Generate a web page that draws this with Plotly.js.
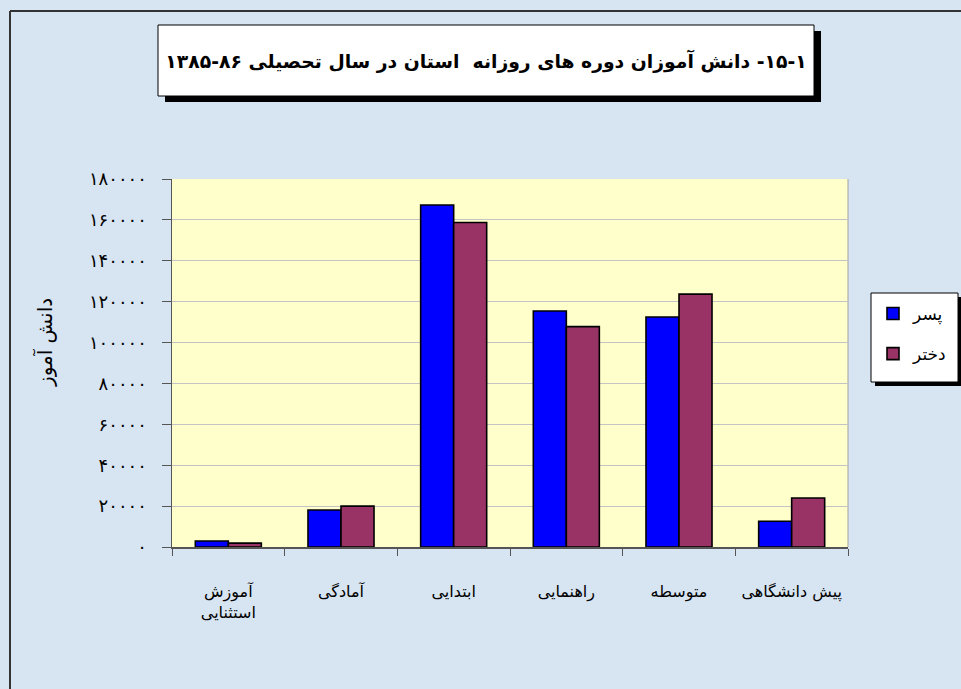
<!DOCTYPE html>
<html>
<head>
<meta charset="utf-8">
<script src="https://cdn.plot.ly/plotly-3.0.1.min.js"></script>
<style>
html,body{margin:0;padding:0;background:#d7e4f2;}
#chart{width:961px;height:689px;}
</style>
</head>
<body>
<div id="chart"></div>
<script>
// ---- data ----
const categories = ['آموزش استثنایی', 'آمادگی', 'ابتدایی', 'راهنمایی', 'متوسطه', 'پیش دانشگاهی'];
const categoryLabels = ['آموزش<br>استثنایی', 'آمادگی', 'ابتدایی', 'راهنمایی', 'متوسطه', 'پیش دانشگاهی'];
const boys = [2900, 18100, 167300, 115400, 112500, 12600];   // پسر
const girls = [1900, 20000, 158700, 107800, 123700, 24000];  // دختر
const seriesNames = ['پسر', 'دختر'];
const yTickVals = [0, 20000, 40000, 60000, 80000, 100000, 120000, 140000, 160000, 180000];
const yTickText = ['۰', '۲۰۰۰۰', '۴۰۰۰۰', '۶۰۰۰۰', '۸۰۰۰۰', '۱۰۰۰۰۰', '۱۲۰۰۰۰', '۱۴۰۰۰۰', '۱۶۰۰۰۰', '۱۸۰۰۰۰'];
const titleText = '\u202B۱\u200F-۱۵\u200F- دانش آموزان دوره های روزانه  استان در سال تحصیلی ۸۶\u200F-۱۳۸۵\u202C';
const yTitle = 'دانش آموز';

// ---- layout helpers (pixel -> paper) ----
const W = 961, H = 689, L = 172, R = 113, T = 179, B = 142;
const pw = W - L - R, ph = H - T - B;
const px = x => (x - L) / pw;
const py = y => (H - B - y) / ph;
const FONT = 'DejaVu Sans, Tahoma, sans-serif';

const traces = [
  {type: 'bar', x: categories, y: boys, name: seriesNames[0], legendgroup: 'a',
   marker: {color: '#0000ff', line: {color: '#000000', width: 1.6}}, hoverinfo: 'x+y'},
  {type: 'bar', x: categories, y: girls, name: seriesNames[1], legendgroup: 'b',
   marker: {color: '#993366', line: {color: '#000000', width: 1.6}}, hoverinfo: 'x+y'}
];

const rect = (x0, y0, x1, y1, fill, line, lw, layer) => ({
  type: 'rect', xref: 'paper', yref: 'paper', layer: layer || 'above',
  x0: px(x0), x1: px(x1), y0: py(y1), y1: py(y0),
  fillcolor: fill, line: {color: line, width: lw}
});

const shapes = [
  // outer frame (left/top)
  {type: 'line', xref: 'paper', yref: 'paper', x0: px(10), x1: px(10), y0: py(689), y1: py(11), line: {color: '#333333', width: 2}},
  {type: 'line', xref: 'paper', yref: 'paper', x0: px(10), x1: px(961), y0: py(11), y1: py(11), line: {color: '#333333', width: 2}},
  // plot area right border
  {type: 'line', xref: 'paper', yref: 'paper', x0: 1, x1: 1, y0: 0, y1: 1, line: {color: '#a0a0a0', width: 1}, layer: 'below'},
  // title box shadow + box
  rect(165, 31, 821, 102, '#000000', '#000000', 0),
  rect(158, 25, 814, 96, '#ffffff', '#000000', 1),
  // legend box shadow + box
  rect(875, 297, 962, 386, '#000000', '#000000', 0),
  rect(871, 293, 958, 382, '#ffffff', '#000000', 1)
];

const layout = {
  width: W, height: H,
  margin: {l: L, r: R, t: T, b: B, pad: 0, autoexpand: false},
  paper_bgcolor: '#d7e4f2',
  plot_bgcolor: '#ffffcc',
  font: {family: FONT, size: 14, color: '#000000'},
  title: {text: '<b>' + titleText + '</b>', x: 486 / W, y: 1 - 61 / H, xref: 'container', yref: 'container',
          xanchor: 'center', yanchor: 'middle', font: {family: FONT, size: 18.8, color: '#000000'}},
  barmode: 'group', bargap: 0.414, bargroupgap: 0,
  xaxis: {
    type: 'category', tickvals: categories, ticktext: categoryLabels, tickangle: 0,
    tickson: 'boundaries', ticks: 'outside', ticklen: 7, tickcolor: '#555555',
    showline: true, linecolor: '#555555', linewidth: 1.5, showgrid: false,
    ticklabelstandoff: 29, tickfont: {family: FONT, size: 16}
  },
  yaxis: {
    range: [0, 180000], tickvals: yTickVals, ticktext: yTickText,
    ticks: 'outside', ticklen: 9, tickcolor: '#555555',
    showline: true, linecolor: '#555555', linewidth: 1.5,
    showgrid: true, gridcolor: '#c4c4c4', gridwidth: 1, zeroline: false,
    ticklabelstandoff: 11, tickfont: {family: FONT, size: 18}
  },
  showlegend: true,
  legend: {
    x: px(873), y: py(296), xanchor: 'left', yanchor: 'top',
    bgcolor: 'rgba(0,0,0,0)', borderwidth: 0,
    traceorder: 'grouped', tracegroupgap: 15,
    font: {family: FONT, size: 17}
  },
  shapes: shapes,
  annotations: [
    {text: yTitle, xref: 'paper', yref: 'paper', x: px(44), y: py(343), textangle: -90,
     showarrow: false, xanchor: 'center', yanchor: 'middle', font: {family: FONT, size: 20}}
  ]
};

Plotly.newPlot('chart', traces, layout, {displayModeBar: false, staticPlot: true});
</script>
</body>
</html>
